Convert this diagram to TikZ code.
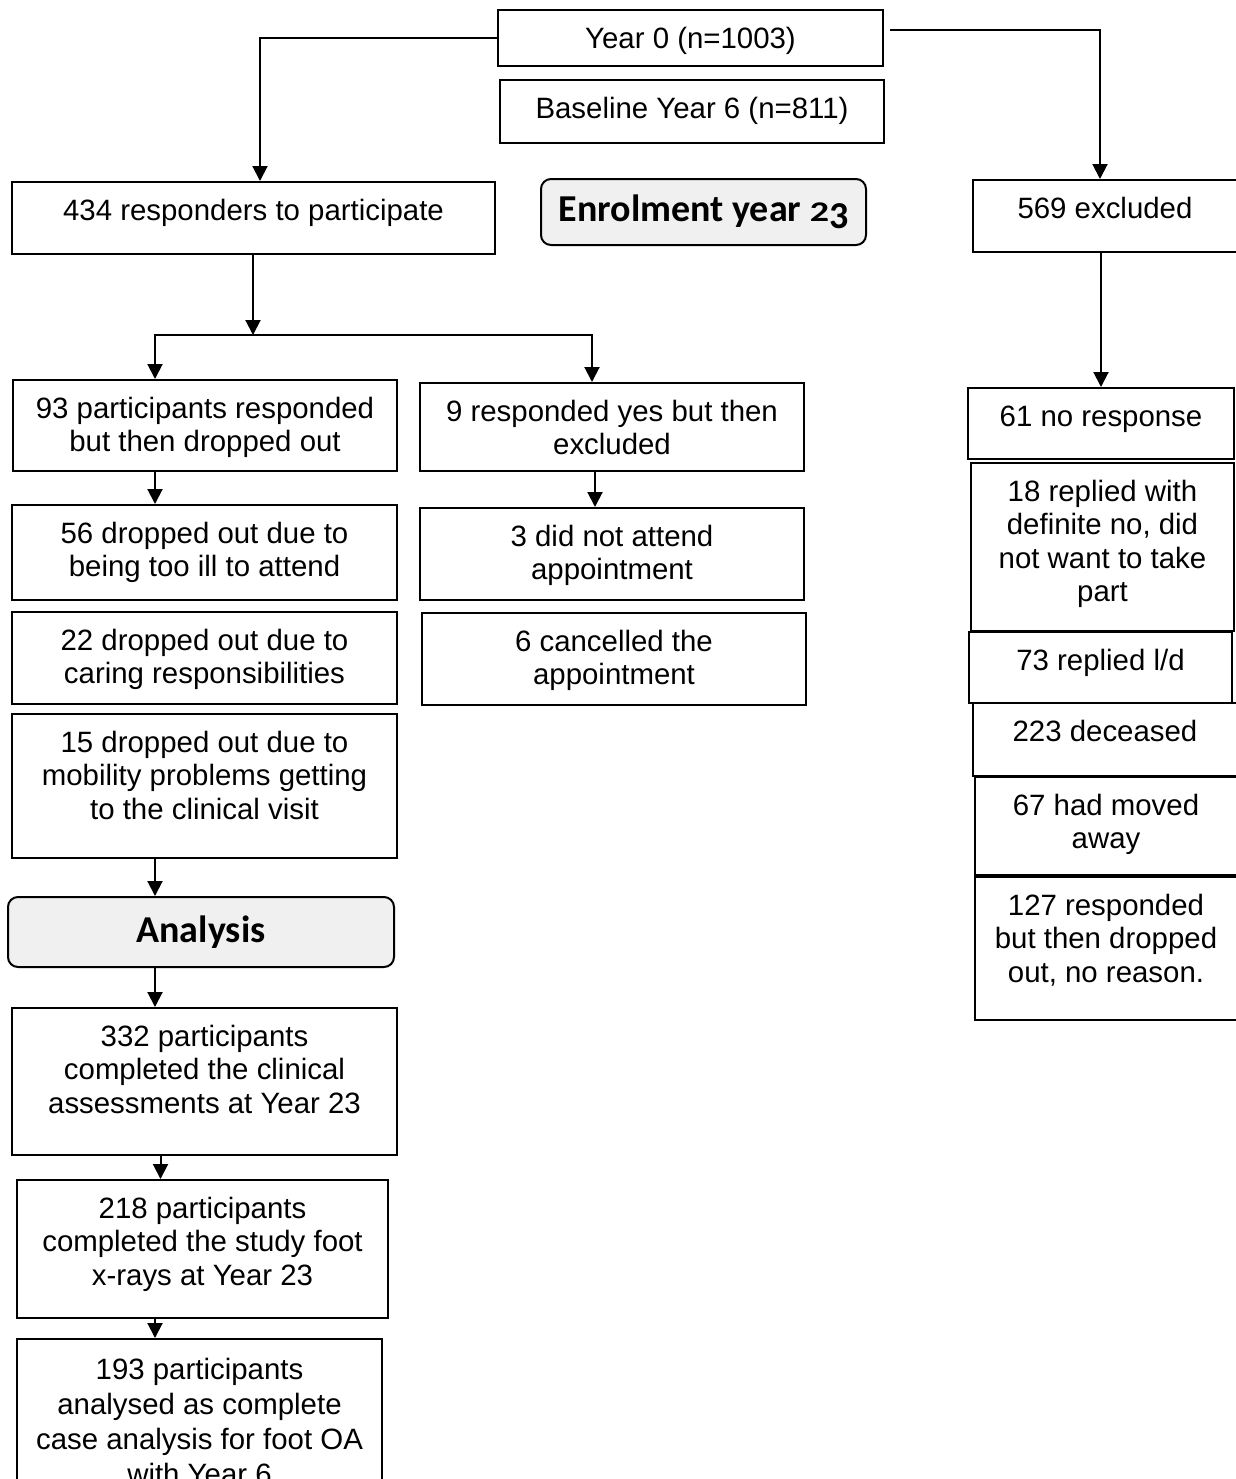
\documentclass[tikz,border=0pt]{standalone}
\usepackage{fontspec}
\setmainfont{Liberation Sans}
\newfontfamily\calib{Carlito}
\usepackage{graphicx}
\usepackage{tikz}
\usetikzlibrary{arrows.meta}

\definecolor{headgray}{RGB}{240,240,240}
\newcommand{\boxtxt}[4][19pt]{\parbox[c][#3][t]{#2}{\centering\rule{0pt}{#1}#4}}
\newcommand{\oldtwothree}{\scalebox{1}[0.75]{2}\raisebox{-0.19em}{3}}

\tikzset{
  box/.style={draw, line width=1pt, inner sep=0pt, font=\fontsize{14.7}{16.8}\selectfont},
  head/.style={draw, line width=1pt, rounded corners=5pt, fill=headgray, inner sep=0pt,
    font=\calib\bfseries\fontsize{19}{22}\selectfont},
  arr/.style={line width=1pt, -{Triangle[length=7.5pt,width=7.5pt]}}
}

\begin{document}
\begin{tikzpicture}[x=0.5pt,y=-0.5pt]
\useasboundingbox (0,0) rectangle (1236,1479);

\node[box] (n0) at (690.5,38) {\boxtxt{192.5pt}{28pt}{Year 0 (n=1003)}};
\node[box] (base) at (692,111.5) {\boxtxt{192pt}{31.5pt}{Baseline Year 6 (n=811)}};
\node[head, minimum width=162.5pt, minimum height=33pt] (enrol) at (703.5,212) {Enrolment year \oldtwothree};

\node[box] (resp) at (253.5,218) {\boxtxt{241.5pt}{36pt}{434 responders to participate}};
\node[box] (excl) at (1105,216) {\boxtxt{132pt}{36pt}{569 excluded}};

% left branch
\node[box] (drop) at (205,425.5) {\boxtxt{192pt}{45.5pt}{93 participants responded\\but then dropped out}};
\node[box] (ill) at (204.5,552.5) {\boxtxt{192.5pt}{47.5pt}{56 dropped out due to\\being too ill to attend}};
\node[box] (care) at (204.5,658) {\boxtxt{192.5pt}{46pt}{22 dropped out due to\\caring responsibilities}};
\node[box] (mob) at (204.5,786) {\boxtxt{192.5pt}{72pt}{15 dropped out due to\\mobility problems getting\\to the clinical visit}};
\node[head, minimum width=193pt, minimum height=35pt] (anal) at (201,932) {Analysis};
\node[box] (clin) at (204.5,1081.5) {\boxtxt{192.5pt}{73.5pt}{332 participants\\completed the clinical\\assessments at Year 23}};
\node[box] (xray) at (202.5,1249) {\boxtxt{185.5pt}{69pt}{218 participants\\completed the study foot\\x-rays at Year 23}};
\node[box] (cca) at (199.5,1419.5) {\boxtxt[20pt]{182.5pt}{80.5pt}{\fontsize{14.7}{17.6}\selectfont
  193 participants\\analysed as complete\\case analysis for foot OA\\with Year 6}};

% middle branch
\node[box] (yes) at (612,427) {\boxtxt{192pt}{44pt}{9 responded yes but then\\excluded}};
\node[box] (dna) at (612,554) {\boxtxt{192pt}{46pt}{3 did not attend\\appointment}};
\node[box] (canc) at (614,659) {\boxtxt{192pt}{46pt}{6 cancelled the\\appointment}};

% excluded column
\node[box] (nores) at (1101,423.5) {\boxtxt{133pt}{35.5pt}{61 no response}};
\node[box] (defno) at (1102.5,547) {\boxtxt{131.5pt}{84pt}{18 replied with\\definite no, did\\not want to take\\part}};
\node[box] (ld) at (1100.5,667.5) {\boxtxt{131.5pt}{35.5pt}{73 replied l/d}};
\node[box] (dec) at (1105,739.5) {\boxtxt{132pt}{36.5pt}{223 deceased}};
\node[box] (moved) at (1106,826) {\boxtxt{131pt}{49pt}{67 had moved\\away}};
\node[box] (noreas) at (1106,948.5) {\boxtxt{131pt}{71.5pt}{127 responded\\but then dropped\\out, no reason.}};

\coordinate (tl) at (260,38);
\coordinate (rs) at (890,30);
\coordinate (tr) at (1100,30);
\coordinate (split) at (253,335);
\coordinate (sl) at (155,335);
\coordinate (sr) at (592,335);

\draw[arr] (n0.west) -- (tl) -- (tl |- resp.north);
\draw[arr] (rs) -- (tr) -- (tr |- excl.north);
\draw[arr] (resp.south -| split) -- (split);
\draw[arr] (split) -- (sl) -- (sl |- drop.north);
\draw[arr] (split) -- (sr) -- (sr |- yes.north);
\draw[arr] (drop.south -| sl) -- (sl |- ill.north);
\draw[arr] ([xshift=-8.5pt]yes.south) -- ([xshift=-8.5pt]yes.south |- dna.north);
\draw[arr] (mob.south -| sl) -- (sl |- anal.north);
\draw[arr] (anal.south -| sl) -- (sl |- clin.north);
\draw[arr] ([xshift=-22pt]clin.south) -- ([xshift=-22pt]clin.south |- xray.north);
\draw[arr] (xray.south -| sl) -- (sl |- cca.north);
\draw[arr] (nores.north |- excl.south) -- (nores.north);
\end{tikzpicture}
\end{document}
